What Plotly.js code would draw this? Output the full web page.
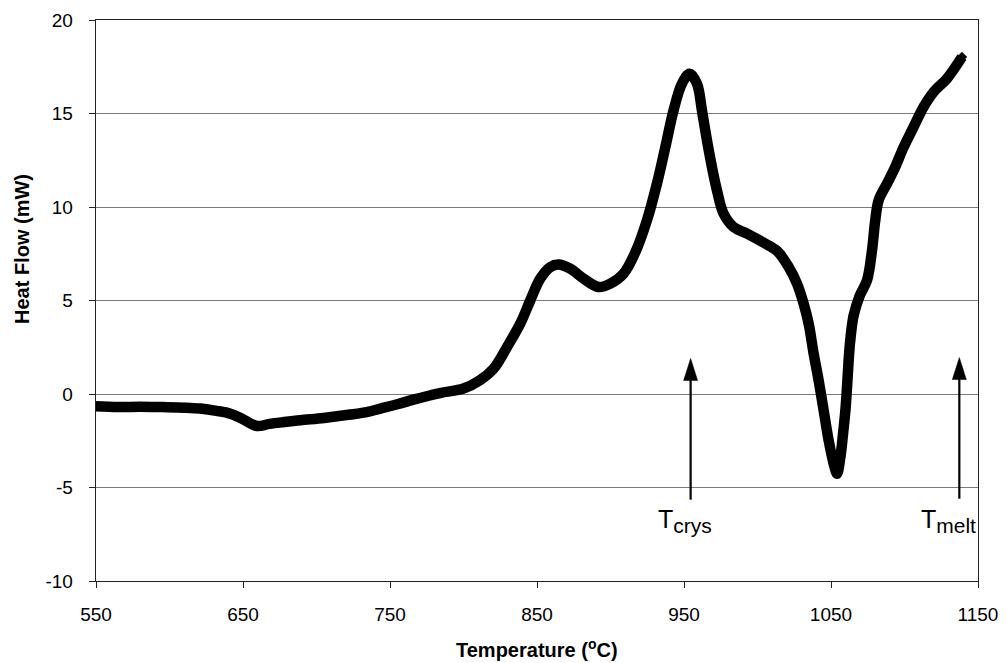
<!DOCTYPE html>
<html>
<head>
<meta charset="utf-8">
<script src="https://cdn.plot.ly/plotly-3.0.1.min.js"></script>
<style>html,body{margin:0;padding:0;background:#fff;}</style>
</head>
<body>
<div id="chart" style="width:1007px;height:663px;"></div>
<script>
// Temperature (°C)
const temperature = [550,565,580,595,610,621,632,641.4,650,659.5,668,678,689,705,723,735,743.5,755,766,784,800,811,820.5,829.6,838.6,845.4,852.2,859,864.7,872.6,881.7,891.9,899.9,908.9,917,924.8,931.6,937.3,942.9,948.6,953.8,958.8,962.2,965.6,969,972.4,976.9,983.7,992.9,1004,1013.3,1021.2,1026.9,1031.4,1034.8,1038.2,1041.6,1045,1048.4,1051.8,1054.1,1056.4,1058.2,1059.8,1060.9,1062,1063.1,1065.4,1069.5,1074.5,1077.9,1080.1,1082.4,1088.1,1093.7,1099.4,1106.2,1113,1119.8,1128.9,1139.1];
// Heat Flow (mW)
const heatFlow = [-0.66,-0.70,-0.68,-0.70,-0.73,-0.78,-0.90,-1.05,-1.35,-1.71,-1.60,-1.50,-1.40,-1.28,-1.10,-0.95,-0.78,-0.55,-0.30,0.05,0.29,0.73,1.36,2.51,3.76,5.0,6.17,6.79,6.93,6.70,6.17,5.72,5.90,6.44,7.6,9.29,11.25,13.2,15.17,16.6,17.13,16.6,15.17,13.57,12.14,10.9,9.65,8.93,8.58,8.1,7.65,6.79,5.9,4.83,3.76,2.16,0.73,-0.87,-2.48,-3.72,-4.26,-3.37,-2.12,-0.87,0.37,1.8,2.87,4.2,5.25,6.08,7.68,9.29,10.36,11.25,12.14,13.2,14.28,15.35,16.15,16.87,18.02];

const xTickVals = [550,650,750,850,950,1050,1150];
const yTickVals = [-10,-5,0,5,10,15,20];

// Arrow markers (temperature, tip heat flow, tail heat flow)
const arrowX = [954.5, 1137.3];
const arrowTipY = [1.9, 1.95];
const arrowTailY = [-5.65, -5.6];
const labelX = [950.7, 1129.8];
const labelY = [-6.8, -6.8];
const labelMain = ['T', 'T'];
const labelSub = ['crys', 'melt'];

const xRange = [550, 1150];
const yRange = [-10, 20];
const L = 96, R = 29, T = 20, B = 82, W = 1007, H = 663;
const xPerPx = (xRange[1]-xRange[0]) / (W - L - R);
const yPerPx = (yRange[1]-yRange[0]) / (H - T - B);

const FONT = 'Arial, "Liberation Sans", sans-serif';

const shapes = [];
const annotations = [];
for (let i = 0; i < arrowX.length; i++) {
  const headLen = 22 * yPerPx, headHalf = 7 * xPerPx;
  const base = arrowTipY[i] - headLen;
  shapes.push({type:'line', xref:'x', yref:'y', x0:arrowX[i], x1:arrowX[i], y0:arrowTailY[i], y1:base + 2*yPerPx,
    line:{color:'black', width:2.2}});
  shapes.push({type:'path', xref:'x', yref:'y',
    path:`M ${arrowX[i]-headHalf} ${base} L ${arrowX[i]+headHalf} ${base} L ${arrowX[i]} ${arrowTipY[i]} Z`,
    fillcolor:'black', line:{color:'black', width:0.5}});
  annotations.push({xref:'x', yref:'y', x:labelX[i], y:labelY[i], showarrow:false,
    xanchor:'center', yanchor:'middle',
    text:`${labelMain[i]}<sub><span style="font-size:21px">${labelSub[i]}</span></sub>`,
    font:{family:FONT, size:25, color:'black'}});
}
annotations.push({xref:'paper', yref:'paper', x:(22-L)/(W-L-R), y:(H-B-249)/(H-T-B), showarrow:false,
  textangle:-90, xanchor:'center', yanchor:'middle', text:'<b>Heat Flow (mW)</b>',
  font:{family:FONT, size:20, color:'black'}});
annotations.push({xref:'paper', yref:'paper', x:0.5, y:-(649-(H-B))/(H-T-B), showarrow:false,
  xanchor:'center', yanchor:'middle', text:'<b>Temperature (<sup>o</sup>C)</b>',
  font:{family:FONT, size:20, color:'black'}});

const trace = {
  x: temperature, y: heatFlow, type:'scatter', mode:'lines+markers',
  line:{color:'black', width:10.5, shape:'spline', smoothing:1},
  marker:{symbol:'diamond', size:8, color:'black'},
  hoverinfo:'skip'
};

const layout = {
  width:W, height:H, margin:{l:L, r:R, t:T, b:B},
  paper_bgcolor:'white', plot_bgcolor:'white', showlegend:false,
  font:{family:FONT, size:19, color:'black'},
  xaxis:{range:xRange, tickvals:xTickVals, ticktext:xTickVals.map(String), showgrid:false, zeroline:false,
    showline:true, linecolor:'#222', linewidth:1.3, mirror:true, ticks:'outside', ticklen:6, tickcolor:'#222',
    tickfont:{family:FONT, size:19, color:'black'}, ticklabelstandoff:10},
  yaxis:{range:yRange, tickvals:yTickVals, ticktext:yTickVals.map(String), showgrid:true, gridcolor:'#7a7a7a', gridwidth:1,
    zeroline:false, showline:true, linecolor:'#222', linewidth:1.3, mirror:true, ticks:'outside', ticklen:6, tickcolor:'#222',
    tickfont:{family:FONT, size:19, color:'black'}, ticklabelstandoff:12},
  shapes:shapes, annotations:annotations
};

Plotly.newPlot('chart', [trace], layout, {displayModeBar:false, staticPlot:true});
</script>
</body>
</html>
